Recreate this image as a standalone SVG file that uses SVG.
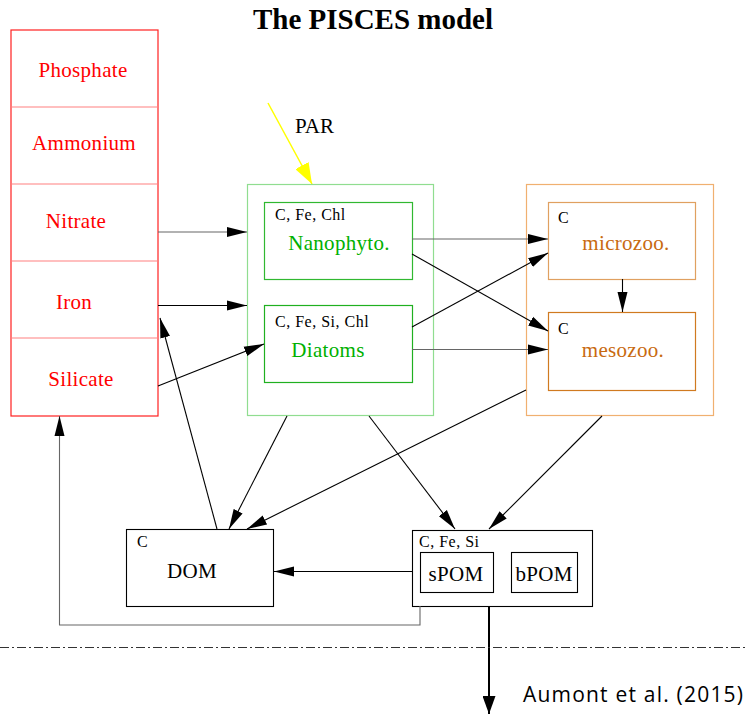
<svg xmlns="http://www.w3.org/2000/svg" width="746" height="714" viewBox="0 0 746 714">
<style>
.serif{font-family:"Liberation Serif","DejaVu Serif",serif}
.lbl{font-size:21px;text-anchor:middle;letter-spacing:0.3px}
.small{font-size:16px;fill:#000;letter-spacing:0.5px}
.red{fill:#ff0000}
.grn{fill:#00b000}
.org{fill:#c86a10}
.blk{fill:#000}
.c{fill:none;stroke:#000;stroke-width:1.1}
.cg{fill:none;stroke:#666;stroke-width:1.1}
</style>
<defs>
<marker id="ah" markerUnits="userSpaceOnUse" markerWidth="20" markerHeight="11" refX="20" refY="5.5" orient="auto"><path d="M0,0.5 L20,5.5 L0,10.5 z" fill="#000"/></marker>
<marker id="ahy" markerUnits="userSpaceOnUse" markerWidth="21" markerHeight="15" refX="21" refY="7.5" orient="auto"><path d="M0,0 L21,7.5 L0,15 z" fill="#ffff00"/></marker>
<marker id="ahb" markerUnits="userSpaceOnUse" markerWidth="18" markerHeight="13" refX="18" refY="6.5" orient="auto"><path d="M0,0 L18,6.5 L0,13 z" fill="#000"/></marker>
</defs>
<rect width="746" height="714" fill="#fff"/>
<text x="373" y="29" class="serif" font-size="29" font-weight="bold" text-anchor="middle" fill="#000">The PISCES model</text>

<g id="nutrients">
<rect x="11" y="30" width="147" height="386" fill="none" stroke="#ff2020" stroke-width="1.2"/>
<g stroke="#ff8080" stroke-width="1.2">
<line x1="11" y1="107" x2="158" y2="107"/>
<line x1="11" y1="184" x2="158" y2="184"/>
<line x1="11" y1="261" x2="158" y2="261"/>
<line x1="11" y1="338" x2="158" y2="338"/>
</g>
<text x="83" y="77" class="serif lbl red">Phosphate</text>
<text x="84" y="150" class="serif lbl red">Ammonium</text>
<text x="76" y="228" class="serif lbl red">Nitrate</text>
<text x="74" y="309" class="serif lbl red">Iron</text>
<text x="81" y="386" class="serif lbl red">Silicate</text>
</g>

<g id="par">
<line x1="268" y1="103" x2="312" y2="184" stroke="#ffff00" stroke-width="1.5" marker-end="url(#ahy)"/>
<text x="295" y="133" class="serif" font-size="21" fill="#000">PAR</text>
</g>

<g id="phyto">
<rect x="247.5" y="184.5" width="186" height="231" fill="none" stroke="#90dd90" stroke-width="1.2"/>
</g>
<g id="nanophyto">
<rect x="264.5" y="202.5" width="148" height="77" fill="none" stroke="#30b830" stroke-width="1.2"/>
<text x="275" y="220" class="serif small">C, Fe, Chl</text>
<text x="339" y="250" class="serif lbl grn">Nanophyto.</text>
</g>
<g id="diatoms">
<rect x="264.5" y="305.5" width="148" height="77" fill="none" stroke="#20b020" stroke-width="1.2"/>
<text x="275" y="327" class="serif small">C, Fe, Si, Chl</text>
<text x="328" y="357" class="serif lbl grn">Diatoms</text>
</g>

<g id="zoo">
<rect x="526.5" y="184.5" width="187" height="231" fill="none" stroke="#f0b070" stroke-width="1.2"/>
</g>
<g id="microzoo">
<rect x="548.5" y="202.5" width="147" height="77" fill="none" stroke="#e0a060" stroke-width="1.2"/>
<text x="558" y="223" class="serif small">C</text>
<text x="626" y="250" class="serif lbl org">microzoo.</text>
</g>
<g id="mesozoo">
<rect x="548.5" y="312.5" width="147" height="78" fill="none" stroke="#d07a20" stroke-width="1.2"/>
<text x="558" y="334" class="serif small">C</text>
<text x="623" y="357" class="serif lbl org">mesozoo.</text>
</g>

<g id="dom">
<rect x="126.5" y="529.5" width="147" height="77" fill="none" stroke="#000" stroke-width="1.1"/>
<text x="137" y="547" class="serif small">C</text>
<text x="192" y="578" class="serif lbl blk">DOM</text>
</g>

<g id="pom">
<rect x="412.5" y="530.5" width="180" height="76" fill="none" stroke="#000" stroke-width="1.1"/>
<text x="419" y="547" class="serif small">C, Fe, Si</text>
</g>
<g id="spom">
<rect x="420.5" y="552.5" width="73" height="40" fill="none" stroke="#000" stroke-width="1.1"/>
<text x="456" y="581" class="serif lbl blk">sPOM</text>
</g>
<g id="bpom">
<rect x="511.5" y="552.5" width="66" height="40" fill="none" stroke="#000" stroke-width="1.1"/>
<text x="544" y="581" class="serif lbl blk">bPOM</text>
</g>

<g id="connectors">
<line x1="158" y1="232" x2="247" y2="232" class="cg" marker-end="url(#ah)"/>
<line x1="158" y1="305.5" x2="247" y2="305.5" class="c" marker-end="url(#ah)"/>
<line x1="158" y1="386" x2="264" y2="344" class="c" marker-end="url(#ah)"/>
<line x1="412" y1="239" x2="548" y2="239" class="cg" marker-end="url(#ah)"/>
<line x1="412" y1="254" x2="548" y2="331" class="c" marker-end="url(#ah)"/>
<line x1="412" y1="327" x2="548" y2="253" class="c" marker-end="url(#ah)"/>
<line x1="412" y1="349.5" x2="548" y2="349.5" class="cg" marker-end="url(#ah)"/>
<line x1="622.5" y1="279" x2="622.5" y2="312" class="c" marker-end="url(#ah)"/>
<line x1="217" y1="529" x2="160" y2="318" class="c" marker-end="url(#ah)"/>
<line x1="287" y1="416" x2="229" y2="529" class="c" marker-end="url(#ah)"/>
<line x1="526" y1="390" x2="247" y2="529" class="c" marker-end="url(#ah)"/>
<line x1="369" y1="416" x2="455" y2="529" class="c" marker-end="url(#ah)"/>
<line x1="602" y1="416" x2="489" y2="529" class="c" marker-end="url(#ah)"/>
<line x1="412" y1="571.5" x2="274" y2="571.5" class="c" marker-end="url(#ah)"/>
<polyline points="420,606 420,625 59.5,625 59.5,416" class="cg" marker-end="url(#ah)"/>
<line x1="489" y1="606" x2="489" y2="714" stroke="#000" stroke-width="2" marker-end="url(#ahb)"/>
</g>

<line x1="0" y1="647.5" x2="746" y2="647.5" stroke="#333" stroke-width="1" stroke-dasharray="9,3,2,3"/>
<text x="523" y="702" font-family="'Open Sans','Liberation Sans',sans-serif" font-size="21" textLength="220" lengthAdjust="spacing" fill="#000">Aumont et al. (2015)</text>
</svg>
